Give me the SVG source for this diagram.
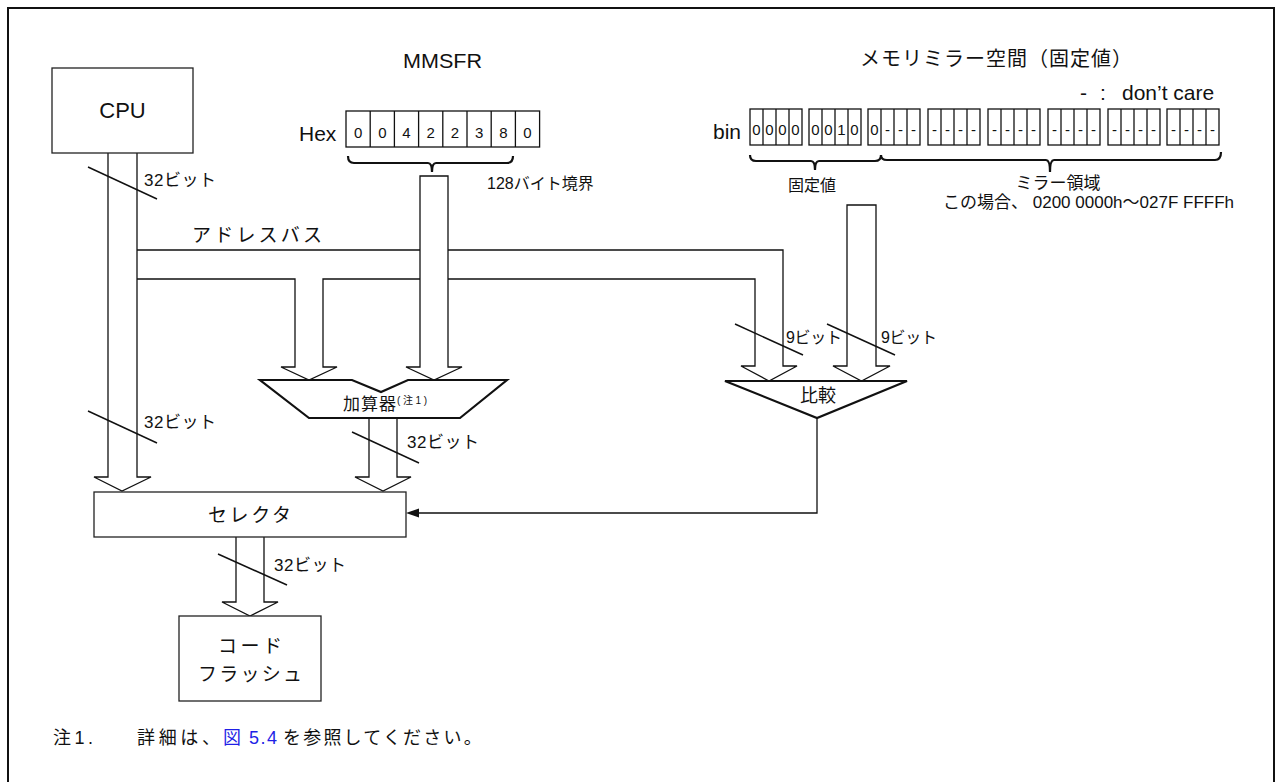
<svg xmlns="http://www.w3.org/2000/svg" xmlns:xlink="http://www.w3.org/1999/xlink" width="1282" height="782" viewBox="0 0 1282 782">
<style>
.t{font-family:"Liberation Sans","Noto Sans CJK JP",sans-serif;fill:#111}
.j{font-family:"Liberation Sans","Noto Sans CJK JP",sans-serif;fill:#111}
.ln{fill:none;stroke:#111;stroke-width:1.3}
.wf{fill:#fff;stroke:#111;stroke-width:1.3}
.bx{fill:#fff;stroke:#222;stroke-width:1.3}
.sl{stroke:#111;stroke-width:1.5}
.br{fill:none;stroke:#111;stroke-width:2.2}
.cell{fill:#fff;stroke:#111;stroke-width:1.3}
</style>
<defs>
<g id="g4">
<rect class="cell" x="0" y="109" width="52" height="36"/>
<line class="ln" x1="13" y1="109" x2="13" y2="145"/>
<line class="ln" x1="26" y1="109" x2="26" y2="145"/>
<line class="ln" x1="39" y1="109" x2="39" y2="145"/>
</g>
</defs>
<rect x="8" y="8" width="1266" height="800" fill="none" stroke="#111" stroke-width="2"/>

<g id="connectors">
<path class="ln" d="M108,153 V477 H94 L122,491 L151,477 H137 V153"/>
<path class="ln" d="M137,250 H783 V366 H797 L769,381 L741,366 H755 V279 H323 V367 H337 L309,380 L281,367 H295 V279 H137"/>
<path class="wf" d="M420,176 H448 V367 H462 L434,380 L406,367 H420 Z"/>
<path class="wf" d="M847,205 H876 V366 H890 L861.5,381 L833,366 H847 Z"/>
<path class="ln" d="M369,418 V477 H355 L383,491 L411,477 H397 V418"/>
<path class="ln" d="M236,537 V602 H222 L250,616 L278,602 H264 V537"/>
<path class="ln" d="M817,418 V513 H416"/>
<polygon points="406,513 419,508.5 419,517.5" fill="#111"/>
<line class="sl" x1="88" y1="167" x2="157" y2="199"/>
<line class="sl" x1="88" y1="411" x2="157" y2="443"/>
<line class="sl" x1="352" y1="432" x2="419" y2="463"/>
<line class="sl" x1="218" y1="554" x2="287" y2="585"/>
<line class="sl" x1="735" y1="324" x2="803" y2="355"/>
<line class="sl" x1="827" y1="324" x2="895" y2="355"/>
<text class="j" x="144" y="186" font-size="17" textLength="72" lengthAdjust="spacing">32ビット</text>
<text class="j" x="144" y="428" font-size="17" textLength="72" lengthAdjust="spacing">32ビット</text>
<text class="j" x="407" y="448" font-size="17" textLength="72" lengthAdjust="spacing">32ビット</text>
<text class="j" x="274" y="571" font-size="17" textLength="72" lengthAdjust="spacing">32ビット</text>
<text class="j" x="786" y="343" font-size="16" textLength="56" lengthAdjust="spacing">9ビット</text>
<text class="j" x="881" y="343" font-size="16" textLength="56" lengthAdjust="spacing">9ビット</text>
<text class="j" x="192" y="242" font-size="19" textLength="130" lengthAdjust="spacing">アドレスバス</text>
</g>

<g id="cpu">
<rect class="bx" x="52" y="68" width="141" height="85"/>
<text class="t" x="122.5" y="118" font-size="22" text-anchor="middle">CPU</text>
</g>

<g id="mmsfr">
<text class="t" x="403" y="68" font-size="21" textLength="79" lengthAdjust="spacingAndGlyphs">MMSFR</text>
<text class="t" x="299" y="140.5" font-size="21">Hex</text>
<rect class="cell" x="346" y="111" width="193.6" height="36"/>
<path class="ln" d="M370.2,111V147M394.4,111V147M418.6,111V147M442.8,111V147M467,111V147M491.2,111V147M515.4,111V147"/>
<g class="t" font-size="15" text-anchor="middle">
<text x="358.1" y="137.5">0</text><text x="382.3" y="137.5">0</text><text x="406.5" y="137.5">4</text><text x="430.7" y="137.5">2</text><text x="454.9" y="137.5">2</text><text x="479.1" y="137.5">3</text><text x="503.3" y="137.5">8</text><text x="527.5" y="137.5">0</text>
</g>
<path class="br" d="M348,156 Q348,163 354,163 H428 Q432,163 432,172 Q432,163 436,163 H507 Q513,163 513,156"/>
<text class="j" x="487" y="189" font-size="16">128バイト境界</text>
</g>

<g id="mirror">
<text class="j" x="860" y="66" font-size="20" letter-spacing="1">メモリミラー空間（固定値）</text>
<text class="t" y="100" font-size="21"><tspan x="1080">-</tspan><tspan x="1100">:</tspan><tspan x="1122">don’t care</tspan></text>
<text class="t" x="713" y="138.5" font-size="21">bin</text>
<use xlink:href="#g4" x="750"/>
<use xlink:href="#g4" x="809"/>
<use xlink:href="#g4" x="868"/>
<use xlink:href="#g4" x="928"/>
<use xlink:href="#g4" x="988"/>
<use xlink:href="#g4" x="1048"/>
<use xlink:href="#g4" x="1108"/>
<use xlink:href="#g4" x="1167"/>
<g class="t" font-size="15" text-anchor="middle">
<text x="756.5" y="135">0</text><text x="769.5" y="135">0</text><text x="782.5" y="135">0</text><text x="795.5" y="135">0</text>
<text x="815.5" y="135">0</text><text x="828.5" y="135">0</text><text x="841.5" y="135">1</text><text x="854.5" y="135">0</text>
<text x="874.5" y="135">0</text><text x="887.5" y="135">-</text><text x="900.5" y="135">-</text><text x="913.5" y="135">-</text>
<text x="934.5" y="135">-</text><text x="947.5" y="135">-</text><text x="960.5" y="135">-</text><text x="973.5" y="135">-</text>
<text x="994.5" y="135">-</text><text x="1007.5" y="135">-</text><text x="1020.5" y="135">-</text><text x="1033.5" y="135">-</text>
<text x="1054.5" y="135">-</text><text x="1067.5" y="135">-</text><text x="1080.5" y="135">-</text><text x="1093.5" y="135">-</text>
<text x="1114.5" y="135">-</text><text x="1127.5" y="135">-</text><text x="1140.5" y="135">-</text><text x="1153.5" y="135">-</text>
<text x="1173.5" y="135">-</text><text x="1186.5" y="135">-</text><text x="1199.5" y="135">-</text><text x="1212.5" y="135">-</text>
</g>
<path class="br" d="M750,155 Q750,161 756,161 H811 Q815,161 815,170 Q815,161 819,161 H875 Q881,161 881,155"/>
<path class="br" d="M881,155 Q881,160 887,160 H1046 Q1050,160 1050,172 Q1050,160 1054,160 H1215 Q1221,160 1221,152"/>
<text class="j" x="812" y="191" font-size="16" text-anchor="middle">固定値</text>
<text class="j" x="1058" y="189" font-size="17" text-anchor="middle">ミラー領域</text>
<text class="j" x="943" y="208" font-size="17">この場合、 0200 0000h～027F FFFFh</text>
</g>

<g id="adder">
<polygon class="br" fill="#fff" points="260,380 352,380 381,392 408,380 507,380 460,418 309,418"/>
<text class="j" x="343" y="410" font-size="17" textLength="53" lengthAdjust="spacing">加算器</text>
<text class="j" x="397" y="404" font-size="10" textLength="30" lengthAdjust="spacing">(注1)</text>
</g>

<g id="compare">
<polygon class="br" fill="#fff" points="725,381 907,381 817,418"/>
<text class="j" x="800" y="402" font-size="18">比較</text>
</g>

<g id="selector">
<rect class="bx" x="94" y="492" width="312" height="45"/>
<text class="j" x="208" y="522" font-size="19" textLength="83" lengthAdjust="spacing">セレクタ</text>
</g>

<g id="codeflash">
<rect class="bx" x="179" y="616" width="142" height="85"/>
<text class="j" x="218" y="653" font-size="19" textLength="64" lengthAdjust="spacing">コード</text>
<text class="j" x="198" y="681" font-size="19" textLength="104" lengthAdjust="spacing">フラッシュ</text>
</g>

<g id="note">
<text class="j" x="53" y="744" font-size="18" textLength="40" lengthAdjust="spacing">注1.</text>
<text class="j" x="137" y="744" font-size="18" textLength="83" lengthAdjust="spacing">詳細は、</text>
<text class="j" x="223" y="744" font-size="18" fill="#1f1fe6" style="fill:#1f1fe6" textLength="54" lengthAdjust="spacing">図 5.4</text>
<text class="j" x="283" y="744" font-size="18" letter-spacing="2.2">を参照してください。</text>
</g>
</svg>
